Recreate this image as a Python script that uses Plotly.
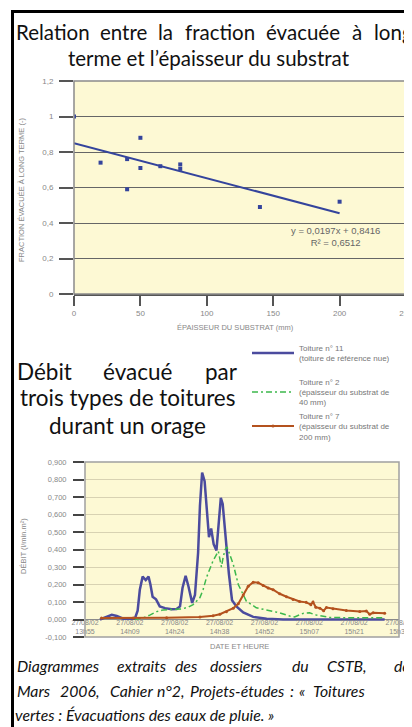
import plotly.graph_objects as go

# The page body has an 8px default margin: the figure is drawn 8px in from the corner.
OFF = 8
FW, FH = 412 - OFF, 727 - OFF


def px(x):
    return (x - OFF) / FW


def py(y):
    return 1 - (y - OFF) / FH


# ---------------- Chart 1 data ----------------
thickness_mm = [0, 20, 40, 40, 50, 50, 65, 80, 80, 140, 200]
fraction = [1.0, 0.74, 0.76, 0.59, 0.88, 0.71, 0.72, 0.73, 0.705, 0.49, 0.52]
trend_x = [0, 200]
trend_y = [0.85, 0.455]
c1_yticks = [0, 0.2, 0.4, 0.6, 0.8, 1.0, 1.2]
c1_yticklabels = ["0", "0,2", "0,4", "0,6", "0,8", "1", "1,2"]
c1_xticks = [0, 50, 100, 150, 200, 250]

# ---------------- Chart 2 data ----------------
t_blue = [4.8, 6.9, 8.6, 10.2, 12.3, 16.0, 16.9, 17.6, 18.5, 19.5, 20.4, 21.0, 21.7,
          22.8, 24.0, 25.7, 27.8, 29.4, 30.5, 31.3, 32.3, 33.2, 34.4, 35.3, 36.3,
          36.9, 37.6, 38.4, 39.0, 39.8, 40.5, 41.3, 42.2, 43.0, 43.6, 44.2, 45.1,
          46.2, 47.2, 48.6, 50.8, 54.0, 58.3, 63.6, 79.6, 96.2]
v_blue = [0.0, 0.015, 0.027, 0.02, 0.005, 0.005, 0.05, 0.17, 0.245, 0.225, 0.245, 0.2,
          0.13, 0.115, 0.075, 0.065, 0.058, 0.06, 0.075, 0.18, 0.25, 0.19, 0.095, 0.14,
          0.38, 0.65, 0.84, 0.79, 0.65, 0.47, 0.52, 0.43, 0.395, 0.55, 0.695, 0.66,
          0.48, 0.26, 0.11, 0.075, 0.04, 0.015, 0.005, 0.0, 0.0, 0.0]

t_green = [16.0, 18.7, 20.8, 23.0, 25.1, 28.3, 31.0, 33.1, 34.7, 36.9, 37.9, 39.0,
           40.1, 41.1, 42.8, 43.4, 43.8, 44.4, 45.0, 45.6, 46.5, 47.6, 49.2, 50.6,
           51.8, 55.0, 58.2, 62.5, 65.7, 67.3, 70.0, 72.1, 74.3, 78.5, 85.0, 90.3, 95.6]
v_green = [0.0, 0.01, 0.025, 0.045, 0.055, 0.058, 0.06, 0.07, 0.085, 0.125, 0.17, 0.24,
           0.29, 0.335, 0.39, 0.33, 0.3, 0.36, 0.4, 0.415, 0.37, 0.315, 0.2, 0.145,
           0.105, 0.067, 0.055, 0.038, 0.02, 0.015, 0.035, 0.038, 0.025, 0.012, 0.01,
           0.008, 0.01]

t_red = [5.3, 15.5, 26.2, 36.9, 41.1, 43.3, 45.4, 47.6, 49.2, 50.8, 52.4, 54.0, 55.6,
         57.2, 58.8, 60.4, 62.5, 64.7, 66.8, 68.9, 71.0, 72.5, 73.2, 74.1, 75.4, 76.6,
         77.5, 79.6, 83.9, 88.2, 90.3, 91.4, 92.5, 96.2]
v_red = [0.008, 0.008, 0.01, 0.015, 0.022, 0.03, 0.045, 0.065, 0.09, 0.14, 0.19, 0.213,
         0.21, 0.195, 0.18, 0.17, 0.147, 0.13, 0.115, 0.103, 0.098, 0.085, 0.1, 0.07,
         0.065, 0.05, 0.068, 0.062, 0.052, 0.046, 0.048, 0.03, 0.038, 0.036]

c2_xticks = [0, 14.4, 28.8, 43.2, 57.6, 72.0, 86.4, 100.8]
c2_xticklabels = ["27/08/02<br>13h55", "27/08/02<br>14h09", "27/08/02<br>14h24",
                  "27/08/02<br>14h38", "27/08/02<br>14h52", "27/08/02<br>15h07",
                  "27/08/02<br>15h21", "27/08/02<br>15h36"]
c2_yticks = [-0.1, 0.0, 0.1, 0.2, 0.3, 0.4, 0.5, 0.6, 0.7, 0.8, 0.9]
c2_yticklabels = ["-0,100", "0,000", "0,100", "0,200", "0,300", "0,400", "0,500",
                  "0,600", "0,700", "0,800", "0,900"]

names = ["Toiture n° 11<br>(toiture de référence nue)",
         "Toiture n° 2<br>(épaisseur du substrat de<br>40 mm)",
         "Toiture n° 7<br>(épaisseur du substrat de<br>200 mm)"]

BLUE = "#4b4b9e"
GREEN = "#3cb84c"
RED = "#b4521e"
SANS = "Liberation Sans"
TITLE = "Lato"

fig = go.Figure()
fig.add_trace(go.Scatter(x=thickness_mm, y=fraction, mode="markers",
                         marker=dict(symbol="square", size=4, color="#34449c"),
                         xaxis="x", yaxis="y", showlegend=False))
fig.add_trace(go.Scatter(x=trend_x, y=trend_y, mode="lines",
                         line=dict(color="#34449c", width=2),
                         xaxis="x", yaxis="y", showlegend=False))

fig.add_trace(go.Scatter(x=t_blue, y=v_blue, mode="lines", name=names[0],
                         line=dict(color=BLUE, width=2.5), legendgroup="a",
                         xaxis="x2", yaxis="y2"))
fig.add_trace(go.Scatter(x=t_green, y=v_green, mode="lines", name=names[1],
                         line=dict(color=GREEN, width=1.5, dash="6px,3px,2px,3px"),
                         legendgroup="b", xaxis="x2", yaxis="y2"))
fig.add_trace(go.Scatter(x=t_red, y=v_red, mode="lines+markers", name=names[2],
                         line=dict(color=RED, width=2), marker=dict(size=3, color=RED),
                         legendgroup="b", xaxis="x2", yaxis="y2"))

tickfont = dict(family=SANS, size=8, color="#888")

fig.update_layout(
    width=FW, height=FH,
    margin=dict(l=0, r=0, t=0, b=0, autoexpand=False),
    paper_bgcolor="white",
    plot_bgcolor="#fdf9d4",
    showlegend=True,
    legend=dict(x=px(247), y=py(336), xanchor="left", yanchor="top",
                xref="container", yref="container",
                font=dict(family=SANS, size=8, color="#777"),
                bgcolor="rgba(0,0,0,0)", tracegroupgap=10, itemwidth=42,
                traceorder="grouped"),
    xaxis=dict(domain=[px(74), px(406)], range=[0, 250], anchor="y",
               tickvals=c1_xticks, ticks="outside", ticklen=10, tickwidth=2,
               tickcolor="#555", showline=True, linecolor="#555", linewidth=2,
               showgrid=False, zeroline=False, tickfont=tickfont,
               ticklabeloverflow="allow"),
    yaxis=dict(domain=[py(294), py(81)], range=[0, 1.2], anchor="x",
               tickvals=c1_yticks, ticktext=c1_yticklabels, ticks="outside",
               ticklen=14, tickwidth=1.5, tickcolor="#555", showline=False,
               showgrid=True, gridcolor="#666", gridwidth=1.3, zeroline=False,
               tickfont=tickfont, ticklabelstandoff=4, ticklabeloverflow="allow"),
    xaxis2=dict(domain=[px(85), px(399)], range=[0, 100.8], anchor="free",
                position=py(617), tickvals=c2_xticks, ticktext=c2_xticklabels,
                ticks="", showline=False, showgrid=False, zeroline=False,
                tickfont=dict(family=SANS, size=7, color="#888"),
                ticklabeloverflow="allow"),
    yaxis2=dict(domain=[py(637), py(462)], range=[-0.1, 0.9], anchor="x2",
                tickvals=c2_yticks, ticktext=c2_yticklabels, ticks="outside",
                ticklen=11, tickwidth=2, tickcolor="#444", showline=False,
                showgrid=True, gridcolor="#d8d2b2", gridwidth=1,
                zeroline=True, zerolinecolor="#8a8a8a", zerolinewidth=1,
                tickfont=dict(family=SANS, size=7.5, color="#888"),
                ticklabelstandoff=5, ticklabeloverflow="allow"),
)

shapes = [
    # chart borders
    dict(type="rect", xref="paper", yref="paper", x0=px(74), x1=px(406),
         y0=py(294), y1=py(81), line=dict(color="#8a8a8a", width=1.5), layer="above"),
    dict(type="rect", xref="paper", yref="paper", x0=px(85), x1=px(399),
         y0=py(637), y1=py(462), line=dict(color="#a0a0a0", width=1.5), layer="above"),
    # page frame
    dict(type="line", xref="paper", yref="paper", x0=px(12.5), x1=px(12.5),
         y0=py(10), y1=0, line=dict(color="black", width=3)),
    dict(type="line", xref="paper", yref="paper", x0=px(11), x1=1,
         y0=py(11.5), y1=py(11.5), line=dict(color="black", width=3)),
]
fig.update_layout(shapes=shapes)

ann = []


def text(t, x, y, size, anchor="left", family=TITLE, color="#111", angle=0, italic=False):
    ann.append(dict(text=t, x=px(x), y=py(y), xref="paper", yref="paper",
                    xanchor=anchor, yanchor="middle", showarrow=False, textangle=angle,
                    font=dict(family=family, size=size, color=color,
                              style="italic" if italic else "normal")))


# chart 1 title (justified first line, centred last line)
title1_words = [("Relation", 14), ("entre", 98), ("la", 156), ("fraction", 183),
                ("évacuée", 264), ("à", 350), ("long", 372)]
for w, x in title1_words:
    text(w, x, 32, 20.5)
text("terme et l’épaisseur du substrat", 209, 58, 20.5, anchor="center")
text("y = 0,0197x + 0,8416<br>R² = 0,6512", 289, 237, 9.5, family=SANS, color="#666")
text("FRACTION ÉVACUÉE À LONG TERME (-)", 22, 190, 7.5, anchor="center", family=SANS,
     color="#888", angle=-90)
text("ÉPAISSEUR DU SUBSTRAT (mm)", 236, 327, 7.5, anchor="center", family=SANS, color="#888")

# chart 2 title
text("Débit", 15, 372, 22.5)
text("évacué", 137, 372, 22.5, anchor="center")
text("par", 240, 372, 22.5, anchor="right")
text("trois types de toitures", 127.5, 398, 22.5, anchor="center")
text("durant un orage", 127.5, 425, 22.5, anchor="center")
text("DÉBIT (l/min.m²)", 23, 546, 7.5, anchor="center", family=SANS, color="#888", angle=-90)
text("DATE ET HEURE", 240, 646, 7.5, anchor="center", family=SANS, color="#888")

# caption
line1 = [("Diagrammes", 15), ("extraits", 115), ("des", 173), ("dossiers", 208),
         ("du", 290), ("CSTB,", 325), ("de", 392)]
line2 = [("Mars", 15), ("2006,", 58), ("Cahier", 108), ("n°2,", 155),
         ("Projets-études", 188), (":", 288), ("«", 297), ("Toitures", 311)]
for w, x in line1:
    text(w, x, 665, 15.8, italic=True)
for w, x in line2:
    text(w, x, 690, 15.8, italic=True)
text("vertes : Évacuations des eaux de pluie. »", 13, 714, 15.8, italic=True)

fig.update_layout(annotations=ann)

fig.write_html("out.html")
